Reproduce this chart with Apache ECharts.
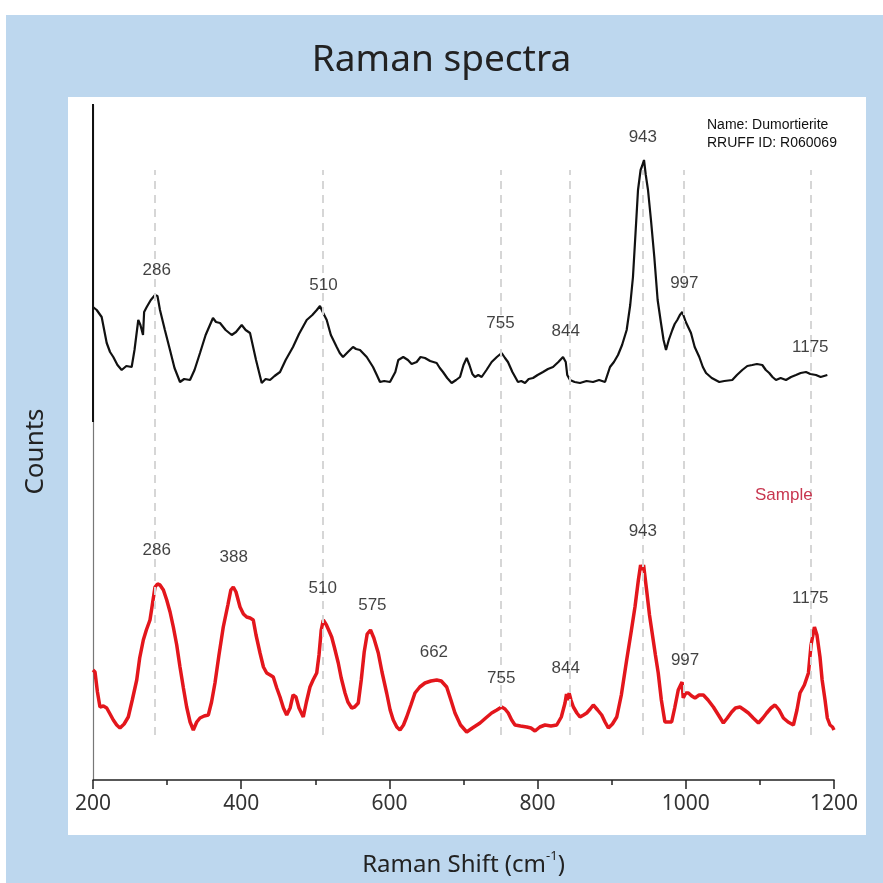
<!DOCTYPE html>
<html>
<head>
<meta charset="utf-8">
<script src="https://cdn.jsdelivr.net/npm/echarts@6/dist/echarts.min.js"></script>
<style>html,body{margin:0;padding:0;background:#fff;overflow:hidden}#c{width:883px;height:883px}</style>
</head>
<body>
<div id="c"></div>
<script>
// Reference spectrum (Dumortierite, RRUFF R060069), offset upward for display
const refShift = [200,205,211.7,218.5,223,227.4,233,238.7,245,252.2,256,261.1,264,267.5,269,272.5,278,283.7,287,290.4,297,303.9,310,317.4,323,330.9,337,344.4,352,361.9,366,371.4,379,387.2,393,400.7,406,411.9,420,427.7,433,438.9,445,452.4,460,469.9,478,488.4,496,502,506.3,510,515.4,521,528.9,533,537.4,544,550.9,555,560.3,569.4,577.9,583,587.3,593,600.8,608,612,618.7,625,630,636.8,642,648,655,663.8,668,672.3,678,684,690,695.3,700,704.3,708,712,715.5,720,724.5,731,738,745,751.5,756,760,766,773.5,778,783,788,793.8,800,807.3,814,820.8,828,834.3,838,840,843.7,850,857.2,866,874.8,883,891,897.7,903,908.5,914,920.2,925,928.7,932,935.5,939,941,943.6,946,949,953,957.5,962,966.5,970,973.3,977,981.8,985,988.5,992,995.3,1000,1007,1012,1018.2,1023,1027.3,1035,1045.2,1052,1062.7,1069,1076.2,1083,1089.7,1096,1103.2,1108,1112.6,1117,1121.7,1128,1135.2,1142,1148.7,1155,1162.2,1168,1175.7,1182,1191];
const refCounts = [473,470,463,437,428,423,415,410,414,413,430,460,455,445,468,473,480,485,484,470,450,430,412,398,401,400,410,427,445,462,458,457,450,445,448,455,450,447,420,397,401,400,404,408,420,433,446,460,465,470,474,468,460,445,433,427,423,428,433,431,430,423,413,405,398,399,398,408,420,423,420,416,418,423,422,419,417,412,408,402,397,400,403,415,422,415,406,403,405,403,410,418,423,427,422,418,408,398,399,397,401,402,405,408,411,413,418,423,418,405,400,398,397,399,398,400,398,413,418,425,435,450,475,503,545,590,610,614,620,605,590,560,523,480,457,440,430,440,450,456,460,465,468,458,447,433,423,413,407,402,398,399,400,405,410,414,415,416,415,410,407,403,400,402,400,403,405,407,408,406,405,403,405];

// Sample spectrum
const sampleShift = [200,202.7,206,209.4,214,218.5,223,227.4,232,236.4,242,247.6,253,259,263,267.9,272,276.9,280,283.7,287,290.4,295,299.5,304,308.4,313,317.4,322,326.4,331,335.4,340,344.4,350,355.6,360,364.6,370,375.8,382,386,389.3,393,398.4,403,407.4,412,416.3,420,425.4,430,434.4,439,443.3,448,452.4,457,461.4,466,470,473.9,478,483.8,488,492.8,497,501.9,505,508,510.8,515,518,522.1,526,531,535,540.1,544,549.1,553,558,562,566,570,574.5,579,585,590,596.3,601,605.2,610,614.3,619,623.3,629,634.5,641,648,656,663.8,670,677.3,683,688.5,696,704.3,712,722.3,730,738,745,751.5,756,760.4,765,769.5,777,785.3,791,796.5,803,810,818,825.8,832,837,839,841,842.5,845,848.3,853,857.2,862,866.3,871,875.2,881,886.5,891,895.5,901,906.8,913,920.2,926,931.4,936,939,941,943,947.1,951,956,959,962.8,967,971.8,976,980.9,985,989.8,993,995,996.5,1000,1003.5,1008,1012.4,1018,1023.7,1030,1037.2,1044,1050.7,1056,1061.9,1067,1073.1,1079,1084.5,1091,1098,1104,1109.2,1115,1120.4,1126,1131.7,1138,1145.2,1150,1154.1,1160,1165.5,1169,1173.6,1177,1181.1,1184,1187.9,1191,1194.6,1198,1200];
const sampleCounts = [110,108,88,73,74,72,66,60,55,52,56,63,80,100,122,140,150,160,175,193,196,195,190,180,168,153,135,113,92,73,58,50,58,62,64,65,78,97,125,153,175,190,193,188,173,166,163,162,160,145,127,113,107,105,103,92,83,72,65,72,85,83,72,63,78,93,100,107,125,150,160,155,150,143,132,117,102,87,78,72,73,77,100,128,146,150,142,127,108,87,70,60,53,50,55,63,75,87,93,97,99,100,99,93,80,67,55,48,52,57,62,67,70,73,71,67,60,55,54,53,52,49,53,55,54,55,63,77,86,80,87,80,73,67,63,65,67,71,75,70,65,58,52,56,63,85,120,147,173,200,215,210,215,190,165,140,125,107,80,58,58,58,72,90,95,98,82,87,87,84,82,85,85,80,73,65,57,62,68,72,73,70,67,62,57,62,67,72,75,70,62,58,55,70,87,95,107,135,153,145,123,100,80,62,55,53,50];

// Peak marker lines (Raman shift positions as drawn)
const peakLines = [284, 510, 750, 843, 942, 997, 1169];
// Peak labels: [shift, counts, text]
const refLabels = [[286,510,'286'],[511,495,'510'],[750,457,'755'],[838,449,'844'],[942,643,'943'],[998,497,'997'],[1168,433,'1175']];
const sampleLabels = [[286,230,'286'],[390,223,'388'],[510,192,'510'],[577,175,'575'],[660,128,'662'],[751,102,'755'],[838,112,'844'],[942,249,'943'],[999,120,'997'],[1168,182,'1175']];
const xTicks = [200, 400, 600, 800, 1000, 1200];
// Dark upper segment of the counts axis
const axisDarkSegment = [[200, 358], [200, 676]];

const zip = (a, b) => a.map((v, i) => [v, b[i]]);

const chart = echarts.init(document.getElementById('c'), null, {renderer: 'canvas', width: 883, height: 883});
chart.setOption({
  backgroundColor: '#ffffff',
  animation: false,
  title: {
    text: 'Raman spectra', left: 'center', top: 37,
    textStyle: {fontFamily: 'Noto Sans', fontSize: 37, fontWeight: 'normal', color: '#222'}
  },
  graphic: [
    {type: 'rect', z: -100, silent: true, shape: {x: 6, y: 15, width: 877, height: 868}, style: {fill: '#bdd7ee'}},
    {type: 'rect', z: -99, silent: true, shape: {x: 68, y: 97, width: 798, height: 738}, style: {fill: '#ffffff'}},
    {type: 'text', z: 100, left: 707, top: 116, style: {text: 'Name: Dumortierite\nRRUFF ID: R060069', fill: '#111', font: '14px "Liberation Sans", Arial, sans-serif', lineHeight: 18}},
    {type: 'text', z: 100, left: 755, top: 487, style: {text: 'Sample', fill: '#c8364f', font: '17px "Liberation Sans", Arial, sans-serif'}}
  ],
  grid: {left: 93, right: 49, top: 105, bottom: 103, outerBoundsMode: 'none', containLabel: false},
  xAxis: {
    type: 'value', min: xTicks[0], max: xTicks[xTicks.length - 1], interval: 200,
    name: 'Raman Shift (cm{s|-1})', nameLocation: 'middle', nameGap: 70,
    nameTextStyle: {fontFamily: 'Noto Sans', fontSize: 24, color: '#222', lineHeight: 30,
      rich: {s: {fontFamily: 'Noto Sans', fontSize: 13, color: '#222', verticalAlign: 'top', lineHeight: 18}}},
    axisLine: {lineStyle: {color: '#222', width: 1.5}},
    axisTick: {length: 9, lineStyle: {color: '#222', width: 1.5}},
    minorTick: {show: true, splitNumber: 2, length: 5, lineStyle: {color: '#222', width: 1.5}},
    splitLine: {show: false}, minorSplitLine: {show: false},
    axisLabel: {fontFamily: 'Noto Sans', fontSize: 21, color: '#333', margin: 14, formatter: v => String(v)}
  },
  yAxis: {
    type: 'value', min: 0, max: 675,
    name: 'Counts', nameLocation: 'middle', nameGap: 44,
    nameTextStyle: {fontFamily: 'Noto Sans', fontSize: 26, color: '#222', padding: [0, 0, 0, -18]},
    axisLine: {show: true, lineStyle: {color: '#777', width: 1.2}},
    axisTick: {show: false}, axisLabel: {show: false}, splitLine: {show: false}
  },
  series: [
    {
      type: 'line', z: 1, data: [], silent: true,
      markLine: {
        silent: true, symbol: 'none', label: {show: false},
        lineStyle: {color: '#d6d6d6', type: [8, 6], width: 2},
        data: peakLines.map(x => [{coord: [x, 45]}, {coord: [x, 610]}])
      }
    },
    {
      type: 'line', z: 6, data: axisDarkSegment, showSymbol: false, clip: false, silent: true,
      lineStyle: {color: '#111', width: 2}
    },
    {
      type: 'line', z: 3, data: zip(refShift, refCounts), showSymbol: false,
      lineStyle: {color: '#111', width: 2.2}, silent: true
    },
    {
      type: 'line', z: 4, data: zip(sampleShift, sampleCounts), showSymbol: false,
      lineStyle: {color: '#e3161c', width: 3.5}, silent: true
    },
    {
      type: 'scatter', z: 5, symbolSize: 0, silent: true,
      data: refLabels.concat(sampleLabels).map(d => ({value: [d[0], d[1]], name: d[2]})),
      label: {show: true, position: 'inside', formatter: p => p.name,
        fontFamily: '"Liberation Sans", Arial, sans-serif', fontSize: 17, color: '#111'}
    }
  ]
});
</script>
</body>
</html>
